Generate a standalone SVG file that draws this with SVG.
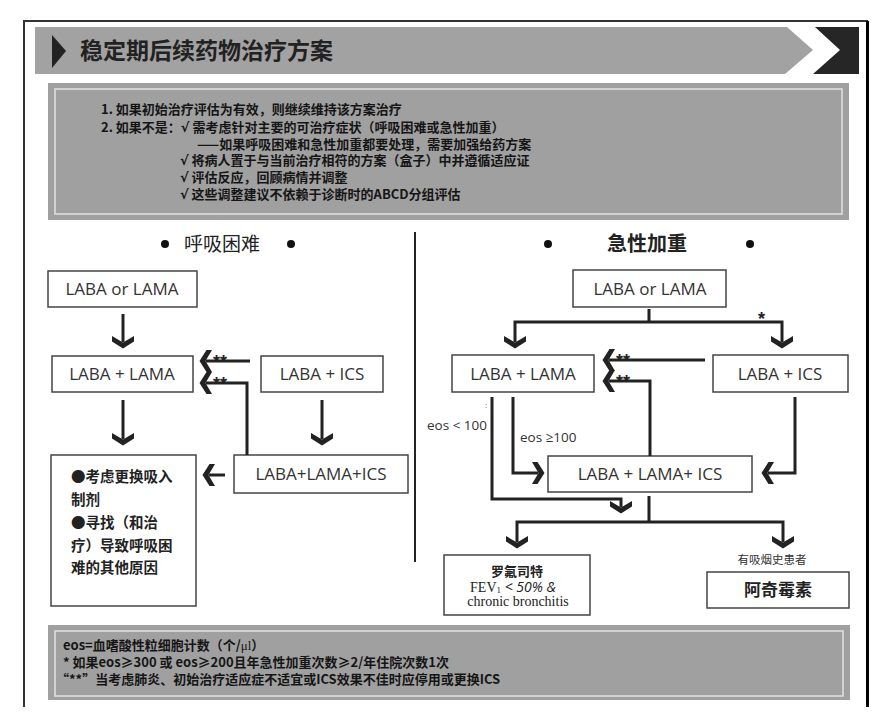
<svg xmlns="http://www.w3.org/2000/svg" xmlns:xlink="http://www.w3.org/1999/xlink" width="896" height="724" viewBox="0 0 896 724">
<style>
.cjk{font-family:"Noto Sans CJK SC","Noto Sans",sans-serif;}
.box{fill:#fff;stroke:#444;stroke-width:1.5;}
.bt{font-family:"Open Sans","Noto Sans",sans-serif;font-size:17px;fill:#333;text-anchor:middle;}
.note{font-family:"Noto Sans CJK SC","Noto Sans",sans-serif;font-size:13px;font-weight:bold;fill:#151515;}
.ln{fill:none;stroke:#222;stroke-width:3;}
.star{font-family:"Liberation Sans",sans-serif;font-size:18px;font-weight:bold;fill:#222;}
.lbl{font-family:"Open Sans","Noto Sans",sans-serif;font-size:13.5px;fill:#333;}
</style>
<defs>
<path id="chev" d="M-11,-6 L0,0.5 L11,-6 L11,-0.5 L0,6.5 L-11,-0.5 Z" fill="#222"/>
</defs>
<rect width="896" height="724" fill="#fff"/>
<!-- frame -->
<path d="M24,707 V21 H867 V707" fill="none" stroke="#333" stroke-width="2"/>
<line x1="867.5" y1="21" x2="867.5" y2="707" stroke="#000" stroke-width="3"/>

<!-- header -->
<g id="header">
<polygon points="35,27 787,27 813,50 785,74 35,74" fill="#a2a2a2"/>
<polygon points="815,27 859,27 859,74 813,74 840,50" fill="#262626"/>
<polygon points="52,35 66,51 52,68" fill="#222"/>
<text x="80" y="59" class="cjk" font-size="23" font-weight="bold" fill="#222">稳定期后续药物治疗方案</text>
</g>

<!-- top note box -->
<g id="notes">
<rect x="48" y="83" width="801" height="137" fill="#a0a0a0"/>
<rect x="55" y="89" width="787" height="125" fill="none" stroke="#e2e2e2" stroke-width="1.5"/>
<text class="note" x="101" y="114">1. 如果初始治疗评估为有效，则继续维持该方案治疗</text>
<text class="note" x="101" y="132">2. 如果不是：<tspan font-family="DejaVu Sans,sans-serif">√</tspan> 需考虑针对主要的可治疗症状（呼吸困难或急性加重）</text>
<text class="note" x="197" y="149">——如果呼吸困难和急性加重都要处理，需要加强给药方案</text>
<text class="note" x="180" y="165"><tspan font-family="DejaVu Sans,sans-serif">√</tspan> 将病人置于与当前治疗相符的方案（盒子）中并遵循适应证</text>
<text class="note" x="180" y="182"><tspan font-family="DejaVu Sans,sans-serif">√</tspan> 评估反应，回顾病情并调整</text>
<text class="note" x="180" y="199"><tspan font-family="DejaVu Sans,sans-serif">√</tspan> 这些调整建议不依赖于诊断时的ABCD分组评估</text>
</g>

<!-- column headings -->
<g id="head-left">
<circle cx="165" cy="244" r="4" fill="#111"/>
<circle cx="291" cy="244" r="4" fill="#111"/>
<text x="222" y="251" class="cjk" font-size="19" fill="#222" text-anchor="middle">呼吸困难</text>
</g>
<g id="head-right">
<circle cx="548" cy="244" r="4" fill="#111"/>
<circle cx="750" cy="244" r="4" fill="#111"/>
<text x="647" y="251" class="cjk" font-size="20" font-weight="bold" fill="#222" text-anchor="middle">急性加重</text>
</g>
<line id="divider" x1="415" y1="232" x2="415" y2="562" stroke="#222" stroke-width="2"/>

<!-- left nodes -->
<g id="L-laba-or-lama"><rect class="box" x="48" y="271" width="149" height="36"/><text class="bt" x="122" y="295">LABA or LAMA</text></g>
<g id="L-laba-lama"><rect class="box" x="52" y="356" width="141" height="36"/><text class="bt" x="122" y="380">LABA + LAMA</text></g>
<g id="L-laba-ics"><rect class="box" x="261" y="356" width="122" height="36"/><text class="bt" x="322" y="380">LABA + ICS</text></g>
<g id="L-triple"><rect class="box" x="234" y="455" width="174" height="38"/><text class="bt" x="321" y="480">LABA+LAMA+ICS</text></g>
<g id="L-other"><rect class="box" x="51" y="455" width="145" height="151"/>
<g class="cjk" font-size="14.5" font-weight="bold" fill="#222">
<text x="71" y="482">●考虑更换吸入</text>
<text x="71" y="505">制剂</text>
<text x="71" y="528">●寻找（和治</text>
<text x="71" y="551">疗）导致呼吸困</text>
<text x="71" y="573">难的其他原因</text>
</g></g>

<!-- right nodes -->
<g id="R-laba-or-lama"><rect class="box" x="573" y="270" width="153" height="37"/><text class="bt" x="650" y="295">LABA or LAMA</text></g>
<g id="R-laba-lama"><rect class="box" x="452" y="355" width="142" height="37"/><text class="bt" x="523" y="380">LABA + LAMA</text></g>
<g id="R-laba-ics"><rect class="box" x="713" y="355" width="135" height="37"/><text class="bt" x="780" y="380">LABA + ICS</text></g>
<g id="R-triple"><rect class="box" x="548" y="456" width="204" height="36"/><text class="bt" x="650" y="480">LABA + LAMA+ ICS</text></g>
<g id="R-roflumilast"><rect class="box" x="444" y="555" width="146" height="60"/>
<text x="517" y="576" class="cjk" font-size="13" font-weight="bold" fill="#222" text-anchor="middle">罗氟司特</text>
<text x="513" y="592" font-size="14" fill="#222" text-anchor="middle"><tspan font-family="Liberation Serif,serif">FEV</tspan><tspan font-family="Liberation Serif,serif" font-size="9" dy="1">1</tspan><tspan font-family="Open Sans,sans-serif" font-style="italic" dy="-1"> &lt; 50% &amp;</tspan></text>
<text x="518" y="606" font-family="Liberation Serif,serif" font-size="14" fill="#222" text-anchor="middle">chronic bronchitis</text>
</g>
<g id="R-azithro"><rect class="box" x="707" y="572" width="142" height="36"/>
<text x="778" y="596" class="cjk" font-size="17" font-weight="bold" fill="#222" text-anchor="middle">阿奇霉素</text></g>
<text x="772" y="564" class="cjk" font-size="11.5" fill="#333" text-anchor="middle">有吸烟史患者</text>

<!-- connectors -->
<g id="connectors">
<!-- left -->
<path class="ln" d="M123,314 V342"/><use xlink:href="#chev" transform="translate(123,342)"/>
<path class="ln" d="M123,400 V439"/><use xlink:href="#chev" transform="translate(123,439)"/>
<path class="ln" d="M322,400 V439"/><use xlink:href="#chev" transform="translate(322,439)"/>
<path class="ln" d="M206,361 H250"/><use xlink:href="#chev" transform="translate(206,361) rotate(90)"/>
<path class="ln" d="M206,383 H247 V455"/><use xlink:href="#chev" transform="translate(206,383) rotate(90)"/>
<text class="star" x="213" y="368">**</text>
<text class="star" x="213" y="390">**</text>
<path class="ln" d="M209,475 H225"/><use xlink:href="#chev" transform="translate(209,475) rotate(90)"/>
<!-- right -->
<path class="ln" d="M649,309 V322 M515,342 V322 H782 V342"/>
<use xlink:href="#chev" transform="translate(515,342)"/><use xlink:href="#chev" transform="translate(782,342)"/>
<text class="star" x="758" y="325">*</text>
<path class="ln" d="M609,360 H705"/><use xlink:href="#chev" transform="translate(609,360) rotate(90)"/>
<path class="ln" d="M609,381 H650 V456"/><use xlink:href="#chev" transform="translate(609,381) rotate(90)"/>
<text class="star" x="616" y="367">**</text>
<text class="star" x="616" y="388">**</text>
<path class="ln" d="M513,397 V473 H538"/><use xlink:href="#chev" transform="translate(538,473) rotate(-90)"/>
<path class="ln" d="M492,397 V499 H621 V507"/><use xlink:href="#chev" transform="translate(621,507)"/>
<path class="ln" d="M795,397 V473 H768"/><use xlink:href="#chev" transform="translate(768,473) rotate(90)"/>
<path class="ln" d="M649,496 V522 M517,542 V522 H783 V542"/>
<use xlink:href="#chev" transform="translate(517,542)"/><use xlink:href="#chev" transform="translate(783,542)"/>
<text x="485" y="408" font-family="Liberation Sans,sans-serif" font-size="8" fill="#444">:</text>
<text class="lbl" x="427" y="430">eos &lt; 100</text>
<text class="lbl" x="520" y="442">eos ≥100</text>
</g>

<!-- bottom legend -->
<g id="legend">
<rect x="48" y="625" width="802" height="75" fill="#a0a0a0"/>
<rect x="55" y="631" width="788" height="65" fill="none" stroke="#e2e2e2" stroke-width="1.5"/>
<text class="note" x="63" y="650">eos=血嗜酸性粒细胞计数（个/<tspan font-family="Liberation Serif,serif" font-weight="normal">μl</tspan>）</text>
<text class="note" x="63" y="667">* 如果eos≥300 或 eos≥200且年急性加重次数≥2/年住院次数1次</text>
<text class="note" x="56" y="684">“**”当考虑肺炎、初始治疗适应症不适宜或ICS效果不佳时应停用或更换ICS</text>
</g>
</svg>
